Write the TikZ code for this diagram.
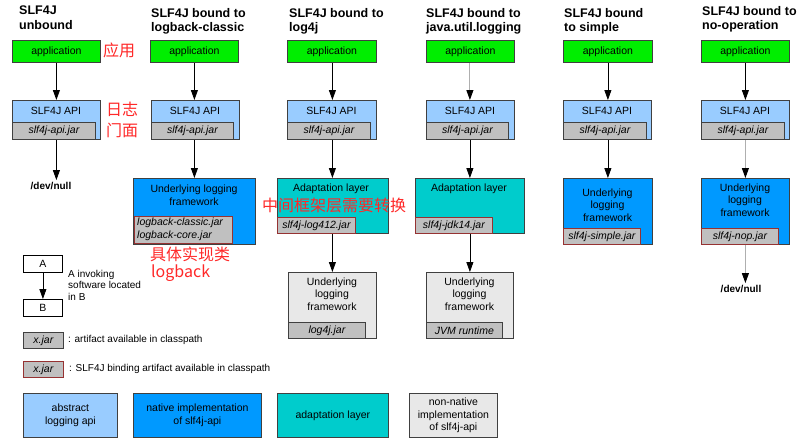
\documentclass[tikz,border=0pt]{standalone}
\usepackage{fontspec}
\setmainfont{Liberation Sans}
\newfontfamily\zhfont{Noto Sans CJK SC}
\usetikzlibrary{arrows.meta}
\definecolor{appgreen}{RGB}{0,238,0}
\definecolor{apiblue}{RGB}{153,204,255}
\definecolor{nativeblue}{RGB}{0,153,255}
\definecolor{adaptteal}{RGB}{0,204,204}
\definecolor{nonnative}{RGB}{232,232,232}
\definecolor{jargray}{RGB}{192,192,192}
\definecolor{edge}{RGB}{64,64,64}
\definecolor{bindred}{RGB}{150,50,50}
\definecolor{zhred}{RGB}{255,40,40}
\definecolor{lightline}{RGB}{175,175,175}
% box: x y w h given in pixels, anchored at the top-left corner
\newcommand\bx[6]{\node[#1,minimum width=#4pt,minimum height=#5pt] (#2) at (#3) {#6};}
\begin{document}
\begin{tikzpicture}[x=1pt,y=-1pt,
  every node/.style={font=\fontsize{10.5}{12.5}\selectfont},
  box/.style={draw=edge,line width=0.8pt,inner sep=0pt,anchor=north west,align=center},
  app/.style={box,fill=appgreen},
  api/.style={box,fill=apiblue},
  native/.style={box,fill=nativeblue},
  adapt/.style={box,fill=adaptteal},
  nonnat/.style={box,fill=nonnative},
  plain/.style={box,fill=white,draw=black},
  jar/.style={box,fill=jargray,font=\fontsize{10.5}{12.5}\selectfont\itshape},
  bindjar/.style={jar,draw=bindred},
  lbl/.style={inner sep=0pt,align=center},
  note/.style={inner sep=0pt,align=left,anchor=west,font=\fontsize{10}{11.5}\selectfont},
  title/.style={inner sep=0pt,align=left,anchor=north west,font=\fontsize{12.5}{14.5}\selectfont\bfseries},
  devnull/.style={inner sep=2pt,font=\fontsize{10}{12}\selectfont\bfseries},
  zh/.style={inner sep=0pt,anchor=west,align=left,text=zhred,font=\zhfont\fontsize{16}{21}\selectfont},
  arr/.style={line width=0.8pt,-{Triangle[length=10pt,width=7pt,color=black]}},
  arrlight/.style={arr,draw=lightline,line width=1pt},
]
\fill[white] (0,0) rectangle (804,447);
\path[use as bounding box] (0,0) rectangle (804,447);

% ---- column titles ----
\node[title] (t1) at (19,6) {SLF4J\\unbound};
\node[title] (t2) at (151,8) {SLF4J bound to\\logback-classic};
\node[title] (t3) at (289,8) {SLF4J bound to\\log4j};
\node[title] (t4) at (426,8) {SLF4J bound to\\java.util.logging};
\node[title] (t5) at (564,8) {SLF4J bound\\to simple};
\node[title] (t6) at (702,6) {SLF4J bound to\\no-operation};

% ---- column 1: unbound ----
\bx{app}{app1}{12,40}{88}{22}{application}
\bx{api}{api1}{12,100}{88}{39}{}
\node[lbl] (api1t) at (56,111) {SLF4J API};
\bx{jar}{jar1}{12,122}{83}{17}{slf4j-api.jar}
\node[devnull] (dn1) at (51,186) {/dev/null};
\draw[arr] (app1.south) -- (app1.south |- api1.north);
\draw[arr] (api1.south) -- (api1.south |- dn1.north);

% ---- column 2: logback-classic ----
\bx{app}{app2}{150,40}{88}{22}{application}
\bx{api}{api2}{151,100}{88}{39}{}
\node[lbl] (api2t) at (195,111) {SLF4J API};
\bx{jar}{jar2}{151,122}{82}{17}{slf4j-api.jar}
\bx{native}{uf2}{133,178}{122}{66}{}
\node[lbl] (uf2t) at (194,195) {Underlying logging\\framework};
\bx{bindjar}{jar2b}{134,216}{98}{27}{}
\node[lbl,anchor=west,align=left,font=\fontsize{10.5}{12.5}\selectfont\itshape] (jar2bt) at (137,229.5) {logback-classic.jar\\logback-core.jar};
\draw[arr] (uf2.north |- app2.south) -- (uf2.north |- api2.north);
\draw[arr] (uf2.north |- api2.south) -- (uf2.north);

% ---- column 3: log4j ----
\bx{app}{app3}{287,40}{89}{22}{application}
\bx{api}{api3}{287,100}{89}{39}{}
\node[lbl] (api3t) at (331.5,111) {SLF4J API};
\bx{jar}{jar3}{287,122}{83}{17}{slf4j-api.jar}
\bx{adapt}{ad3}{277,178}{111}{55}{}
\node[lbl] (ad3t) at (331,189) {Adaptation layer};
\bx{bindjar}{jar3b}{277,217}{78}{16}{slf4j-log412.jar}
\bx{nonnat}{ul3}{288,272}{88}{66}{}
\node[lbl] (ul3t) at (332,294) {Underlying\\logging\\framework};
\bx{jar}{jar3c}{288,322}{77}{16}{log4j.jar}
\draw[arr] (ul3.north |- app3.south) -- (ul3.north |- api3.north);
\draw[arr] (ul3.north |- api3.south) -- (ul3.north |- ad3.north);
\draw[arr] (ul3.north |- ad3.south) -- (ul3.north);

% ---- column 4: java.util.logging ----
\bx{app}{app4}{426,40}{88}{22}{application}
\bx{api}{api4}{426,100}{88}{39}{}
\node[lbl] (api4t) at (470,111) {SLF4J API};
\bx{jar}{jar4}{426,122}{82}{17}{slf4j-api.jar}
\bx{adapt}{ad4}{415,178}{109}{55}{}
\node[lbl] (ad4t) at (469,189) {Adaptation layer};
\bx{bindjar}{jar4b}{415,217}{77}{16}{slf4j-jdk14.jar}
\bx{nonnat}{ul4}{426,272}{87}{66}{}
\node[lbl] (ul4t) at (469.5,294) {Underlying\\logging\\framework};
\bx{jar}{jar4c}{426,322}{76}{16}{JVM runtime}
\draw[arrlight] (ul4.north |- app4.south) -- (ul4.north |- api4.north);
\draw[arr] (ul4.north |- api4.south) -- (ul4.north |- ad4.north);
\draw[arr] (ul4.north |- ad4.south) -- (ul4.north);

% ---- column 5: simple ----
\bx{app}{app5}{563,40}{89}{22}{application}
\bx{api}{api5}{563,100}{88}{39}{}
\node[lbl] (api5t) at (607,111) {SLF4J API};
\bx{jar}{jar5}{563,122}{83}{17}{slf4j-api.jar}
\bx{native}{uf5}{563,178}{89}{66}{}
\node[lbl] (uf5t) at (607.5,205) {Underlying\\logging\\framework};
\bx{bindjar}{jar5b}{563,228}{77}{16}{slf4j-simple.jar}
\draw[arr] (uf5.north |- app5.south) -- (uf5.north |- api5.north);
\draw[arr] (uf5.north |- api5.south) -- (uf5.north);

% ---- column 6: no-operation ----
\bx{app}{app6}{701,40}{88}{22}{application}
\bx{api}{api6}{701,100}{88}{39}{}
\node[lbl] (api6t) at (745,111) {SLF4J API};
\bx{jar}{jar6}{701,122}{83}{17}{slf4j-api.jar}
\bx{native}{uf6}{701,178}{88}{66}{}
\node[lbl] (uf6t) at (745,200) {Underlying\\logging\\framework};
\bx{bindjar}{jar6b}{701,228}{77}{16}{slf4j-nop.jar}
\node[devnull] (dn6) at (741,289) {/dev/null};
\draw[arr] (uf6.north |- app6.south) -- (uf6.north |- api6.north);
\draw[arrlight] (uf6.north |- api6.south) -- (uf6.north);
\draw[arrlight] (uf6.south) -- (uf6.south |- dn6.north);

% ---- annotations ----
\node[zh] (zh1) at (103,50) {应用};
\node[zh,anchor=north west] (zh2) at (106,102) {日志\\门面};
\node[zh] (zh3) at (262,205) {中间框架层需要转换};
\node[zh] (zh4) at (150,254) {具体实现类};
\node[zh] (zh5) at (151,273) {logback};

% ---- legend ----
\bx{plain}{la}{23,255}{39}{17}{A}
\bx{plain}{lb}{23,299}{39}{17}{B}
\draw[arr] (la) -- (lb);
\node[note] (lnote) at (68,285) {A invoking\\software located\\in B};
\bx{jar}{lj1}{23,332}{40}{16}{x.jar}
\node[note] (lj1t) at (68,340) {: artifact available in classpath};
\bx{bindjar}{lj2}{23,361}{40}{16}{x.jar}
\node[note] (lj2t) at (69,369) {: SLF4J binding artifact available in classpath};

\bx{api}{lg1}{23,393}{94}{44}{abstract\\logging api}
\bx{native}{lg2}{133,393}{128}{44}{native implementation\\of slf4j-api}
\bx{adapt}{lg3}{277,393}{111}{44}{adaptation layer}
\bx{nonnat}{lg4}{409,393}{88}{44}{non-native\\implementation\\of slf4j-api}
\end{tikzpicture}
\end{document}
